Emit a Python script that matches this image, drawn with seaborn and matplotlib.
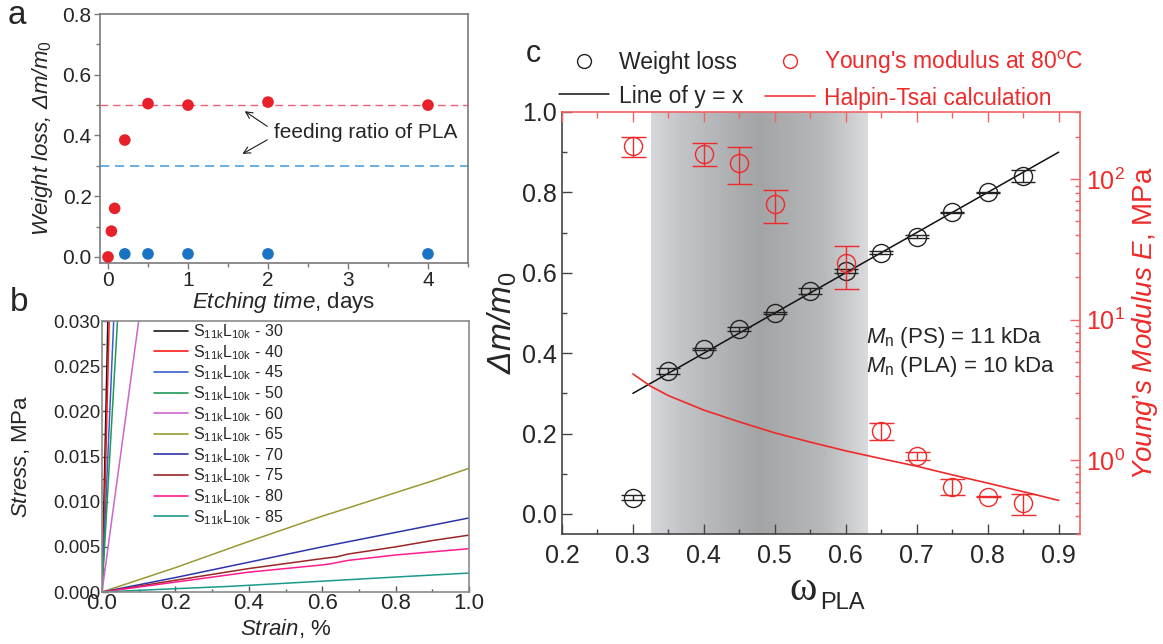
import numpy as np
import pandas as pd
import matplotlib
matplotlib.use("Agg")
import matplotlib.pyplot as plt
import seaborn as sns
from matplotlib.lines import Line2D
from matplotlib.colors import LinearSegmentedColormap
from matplotlib.ticker import MultipleLocator, LogLocator, NullFormatter

# ---------------- data: panel a ----------------
etch_time_pla = [0.0, 0.042, 0.083, 0.21, 0.5, 1.0, 2.0, 4.0]
weight_loss_pla = [0.0, 0.085, 0.16, 0.385, 0.505, 0.50, 0.51, 0.50]
etch_time_ps = [0.21, 0.5, 1.0, 2.0, 4.0]
weight_loss_ps = [0.01, 0.01, 0.01, 0.01, 0.01]
feed_ratio_red = 0.5
feed_ratio_blue = 0.3

# ---------------- data: panel b ----------------
sample_labels = ["30", "40", "45", "50", "60", "65", "70", "75", "80", "85"]
sample_colors = ["#1a1a1a", "#ff1a1a", "#3a5fcd", "#1f9a55", "#cc66cc",
                 "#999933", "#2e35a8", "#992626", "#ff1c8e", "#1a9a8c"]
strain_30 = [0.0, 0.018]
stress_30 = [0.0, 0.034]
strain_40 = [0.0, 0.005, 0.022]
stress_40 = [0.0, 0.006, 0.034]
strain_45 = [0.0, 0.034]
stress_45 = [0.0, 0.032]
strain_50 = [0.0, 0.045]
stress_50 = [0.0, 0.032]
strain_60 = [0.0, 0.105]
stress_60 = [0.0, 0.0315]
strain_65 = [0.0, 0.2, 0.4, 0.6, 0.67, 0.8, 0.9, 1.0]
stress_65 = [0.0, 0.0027, 0.0056, 0.0084, 0.0093, 0.0110, 0.0123, 0.0137]
strain_70 = [0.0, 0.2, 0.4, 0.6, 0.8, 1.0]
stress_70 = [0.0, 0.0016, 0.0033, 0.0050, 0.0066, 0.0082]
strain_75 = [0.0, 0.2, 0.4, 0.6, 0.64, 0.67, 0.8, 0.9, 1.0]
stress_75 = [0.0, 0.0013, 0.0026, 0.0037, 0.0039, 0.0042, 0.0050, 0.0057, 0.0063]
strain_80 = [0.0, 0.2, 0.4, 0.6, 0.62, 0.67, 0.8, 1.0]
stress_80 = [0.0, 0.0011, 0.0022, 0.0030, 0.0031, 0.0035, 0.0041, 0.0048]
strain_85 = [0.0, 0.2, 0.35, 0.6, 0.8, 1.0]
stress_85 = [0.0, 0.00037, 0.00063, 0.0012, 0.00166, 0.0021]

# ---------------- data: panel c ----------------
w_pla = [0.30, 0.35, 0.40, 0.45, 0.50, 0.55, 0.60, 0.65, 0.70, 0.75, 0.80, 0.85]
weight_loss_c = [0.04, 0.355, 0.41, 0.46, 0.50, 0.555, 0.605, 0.65, 0.69, 0.75, 0.80, 0.84]
weight_loss_err = [0.006, 0.008, 0.002, 0.004, 0.002, 0.008, 0.005, 0.004, 0.004, 0.002, 0.002, 0.015]
line_yx = [0.30, 0.90]
w_mod = [0.30, 0.40, 0.45, 0.50, 0.60, 0.65, 0.70, 0.75, 0.80, 0.85]
modulus = [172, 152, 131, 66.6, 25.2, 1.61, 1.07, 0.65, 0.553, 0.50]
modulus_hi = [200, 181, 169, 83.6, 33.6, 1.85, 1.15, 0.74, 0.56, 0.574]
modulus_lo = [144, 124, 92, 48.5, 16.5, 1.39, 1.00, 0.57, 0.546, 0.41]
w_ht = [0.30, 0.325, 0.35, 0.40, 0.45, 0.50, 0.55, 0.60, 0.65, 0.70, 0.75, 0.80, 0.85, 0.90]
halpin_tsai = [4.12, 3.37, 2.89, 2.28, 1.88, 1.57, 1.35, 1.17, 1.03, 0.91, 0.79, 0.69, 0.60, 0.52]
shade_range = [0.325, 0.63]

# ---------------- style ----------------
sns.set_theme(style="ticks")
plt.rcParams["font.family"] = ["Liberation Sans", "DejaVu Sans"]
plt.rcParams.update({
    "mathtext.fontset": "custom",
    "mathtext.rm": "Liberation Sans",
    "mathtext.it": "Liberation Sans:italic",
    "mathtext.bf": "Liberation Sans:bold",
    "axes.linewidth": 1.2,
})

RED = "#ee2a2a"
RED_SPINE = "#f26464"

fig = plt.figure(figsize=(11.63, 6.44), dpi=100)
axa = fig.add_axes([0.086, 0.5916, 0.3164, 0.3866])
axb = fig.add_axes([0.0877, 0.0807, 0.3156, 0.4208])
axc = fig.add_axes([0.4832, 0.1708, 0.4454, 0.6553])

# ================= panel a =================
axa.axhline(feed_ratio_red, ls=(0, (5.5, 3.5)), color="#e8607a", lw=1.0, zorder=1)
axa.axhline(feed_ratio_blue, ls=(0, (5.5, 3.5)), color="#4aa3e6", lw=1.2, zorder=1)
sns.scatterplot(x=etch_time_pla, y=weight_loss_pla, ax=axa, color="#e8202a",
                s=70, edgecolor="none", zorder=3)
sns.scatterplot(x=etch_time_ps, y=weight_loss_ps, ax=axa, color="#1a72c2",
                s=70, edgecolor="none", zorder=3)
axa.set_xlim(-0.1, 4.5)
axa.set_ylim(-0.02, 0.8)
axa.xaxis.set_major_locator(MultipleLocator(1))
axa.xaxis.set_minor_locator(MultipleLocator(0.5))
axa.yaxis.set_major_locator(MultipleLocator(0.2))
axa.yaxis.set_minor_locator(MultipleLocator(0.1))
axa.yaxis.set_major_formatter(matplotlib.ticker.FormatStrFormatter("%.1f"))
for s in axa.spines.values():
    s.set_color("#7a7a7a")
axa.tick_params(which="both", direction="out", color="#7a7a7a", labelsize=15, pad=2)
axa.tick_params(which="major", length=4, width=1)
axa.tick_params(which="minor", length=3, width=1)
axa.set_xlabel(r"$Etching\ time$, days", fontsize=16, labelpad=0)
axa.set_ylabel("Weight loss, Δm/m$_0$", fontsize=16, style="italic")
axa.yaxis.set_label_coords(-0.122, 0.5)
axa.text(2.08, 0.41, "feeding ratio of PLA", fontsize=15, va="center", ha="left")
axa.annotate("", xy=(1.68, 0.485), xytext=(2.02, 0.425),
             arrowprops=dict(arrowstyle="->", lw=0.8, color="k"))
axa.annotate("", xy=(1.65, 0.335), xytext=(2.02, 0.39),
             arrowprops=dict(arrowstyle="->", lw=0.8, color="k"))

# ================= panel b =================
strains = [strain_30, strain_40, strain_45, strain_50, strain_60,
           strain_65, strain_70, strain_75, strain_80, strain_85]
stresses = [stress_30, stress_40, stress_45, stress_50, stress_60,
            stress_65, stress_70, stress_75, stress_80, stress_85]
frames = []
for lab, sx, sy in zip(sample_labels, strains, stresses):
    frames.append(pd.DataFrame({"strain": sx, "stress": sy, "sample": lab}))
df_b = pd.concat(frames, ignore_index=True)
sns.lineplot(data=df_b, x="strain", y="stress", hue="sample", hue_order=sample_labels,
             palette=sample_colors, sort=False, estimator=None, lw=1.1, ax=axb, legend=False)
axb.set_xlim(0, 1.0)
axb.set_ylim(0, 0.030)
axb.xaxis.set_major_locator(MultipleLocator(0.2))
axb.xaxis.set_minor_locator(MultipleLocator(0.1))
axb.yaxis.set_major_locator(MultipleLocator(0.005))
axb.yaxis.set_minor_locator(MultipleLocator(0.0025))
axb.yaxis.set_major_formatter(matplotlib.ticker.FormatStrFormatter("%.3f"))
axb.xaxis.set_major_formatter(matplotlib.ticker.FormatStrFormatter("%.1f"))
for s in axb.spines.values():
    s.set_color("#8a8a8a")
axb.tick_params(which="both", direction="in", color="#555555")
axb.tick_params(which="major", length=4, width=1)
axb.tick_params(which="minor", length=2.5, width=1)
axb.tick_params(axis="y", labelsize=13.5, pad=1)
axb.tick_params(axis="x", labelsize=16, pad=1)
axb.set_xlabel(r"$Strain$, %", fontsize=16, labelpad=2)
axb.set_ylabel(r"$Stress$, MPa", fontsize=16)
axb.yaxis.set_label_coords(-0.19, 0.5)
handles_b = [Line2D([], [], color=c, lw=1.2) for c in sample_colors]
labels_b = [r"S$_{\rm 11k}$L$_{\rm 10k}$ - " + l for l in sample_labels]
axb.legend(handles_b, labels_b, loc="upper left", bbox_to_anchor=(0.142, 0.995),
           frameon=False, fontsize=11.5, handlelength=2.1, handletextpad=0.35,
           labelspacing=0.12, borderpad=0, borderaxespad=0)

# ================= panel c =================
cmap = LinearSegmentedColormap.from_list(
    "shade", [(0.0, "#d6d8db"), (0.15, "#c2c3c6"), (0.5, "#a3a4a6"),
              (0.8, "#b8b9bb"), (1.0, "#dadbdd")])
grad = np.linspace(0, 1, 256).reshape(1, -1)
axc.imshow(grad, extent=[shade_range[0], shade_range[1], -0.05, 1.0], aspect="auto",
           cmap=cmap, zorder=0, interpolation="bilinear")
sns.lineplot(x=line_yx, y=line_yx, ax=axc, color="#111111", lw=1.1, zorder=2)
axc.errorbar(w_pla, weight_loss_c, yerr=weight_loss_err, fmt="o", mfc="none", mec="#222222",
             ms=13, mew=1.0, ecolor="#222222", elinewidth=1.0, capsize=8.5, capthick=1.2,
             zorder=3)
axc.set_xlim(0.2, 0.93)
axc.set_ylim(-0.05, 1.0)
axc.xaxis.set_major_locator(MultipleLocator(0.1))
axc.xaxis.set_minor_locator(MultipleLocator(0.05))
axc.yaxis.set_major_locator(MultipleLocator(0.2))
axc.yaxis.set_minor_locator(MultipleLocator(0.1))
axc.xaxis.set_major_formatter(matplotlib.ticker.FormatStrFormatter("%.1f"))
axc.yaxis.set_major_formatter(matplotlib.ticker.FormatStrFormatter("%.1f"))
axc.tick_params(which="both", direction="in", color="#444444", top=False, right=False)
axc.tick_params(which="major", length=7, width=1, labelsize=18)
axc.tick_params(which="minor", length=3.5, width=1)
axc.tick_params(axis="x", pad=7)
axc.tick_params(axis="y", pad=4)
axc.spines["top"].set_visible(False)
axc.spines["right"].set_visible(False)
for k in ("left", "bottom"):
    axc.spines[k].set_color("#444444")
axc.set_ylabel("Δm/m$_0$", fontsize=24, style="italic", labelpad=2)

ax2 = axc.twinx()
ax2.set_yscale("log")
lo = np.array(modulus) - np.array(modulus_lo)
hi = np.array(modulus_hi) - np.array(modulus)
ax2.errorbar(w_mod, modulus, yerr=[lo, hi], fmt="o", mfc="none", mec=RED, ms=13, mew=1.0,
             ecolor=RED, elinewidth=1.0, capsize=9, capthick=1.2, zorder=3)
sns.lineplot(x=w_ht, y=halpin_tsai, ax=ax2, color=RED, lw=1.2, zorder=2)
ax2.set_ylim(0.3, 300)
ax2.yaxis.set_major_locator(LogLocator(base=10, numticks=10))
ax2.yaxis.set_minor_locator(LogLocator(base=10, subs=np.arange(2, 10), numticks=10))
ax2.yaxis.set_minor_formatter(NullFormatter())
ax2.spines["left"].set_visible(False)
ax2.spines["bottom"].set_visible(False)
ax2.spines["right"].set_color(RED_SPINE)
ax2.spines["top"].set_color(RED_SPINE)
ax2.tick_params(axis="y", which="both", direction="in", color=RED_SPINE, labelcolor=RED,
                labelsize=18, pad=4)
ax2.tick_params(axis="y", which="major", length=7, width=1)
ax2.tick_params(axis="y", which="minor", length=3.5, width=1)
ax2.xaxis.set_visible(True)
ax2.tick_params(axis="x", which="both", direction="in", bottom=False, top=True,
                labelbottom=False, labeltop=False, color=RED_SPINE)
ax2.tick_params(axis="x", which="major", length=7, width=1)
ax2.tick_params(axis="x", which="minor", length=4, width=1)
ax2.set_ylabel(r"$Young’s\ Modulus\ E$, MPa", color=RED, fontsize=20, labelpad=4)

axc.text(0.628, 0.44, r"$M_{\rm n}$ (PS) = 11 kDa", fontsize=16, va="center", ha="left", zorder=5)
axc.text(0.628, 0.366, r"$M_{\rm n}$ (PLA) = 10 kDa", fontsize=16, va="center", ha="left", zorder=5)

# x label of panel c: omega (serif) with sans subscript
fig.text(803 / 1163, 1 - 600 / 644, "ω", fontsize=30, family="Liberation Serif",
         ha="center", va="baseline")
fig.text(820 / 1163, 1 - 609 / 644, "PLA", fontsize=17, ha="left", va="baseline")

# legend of panel c
h1 = Line2D([], [], ls="none", marker="o", mfc="none", mec="#222222", ms=10, mew=1.0)
h2 = Line2D([], [], color="#111111", lw=1.1)
h3 = Line2D([], [], ls="none", marker="o", mfc="none", mec=RED, ms=10, mew=1.0)
h4 = Line2D([], [], color=RED, lw=1.1)
leg = fig.legend([h1, h2, h3, h4],
                 ["Weight loss", "Line of y = x",
                  r"Young's modulus at 80$^{\rm o}$C", "Halpin-Tsai calculation"],
                 ncol=2, loc="upper left", bbox_to_anchor=(559 / 1163, 1 - 49 / 644),
                 frameon=False, fontsize=16.5, handlelength=2.2, handletextpad=0.4,
                 columnspacing=0.95, borderpad=0, borderaxespad=0, labelspacing=0.45)
for t in leg.get_texts()[2:]:
    t.set_color(RED)

# panel letters
fig.text(8 / 1163, 1 - 24 / 644, "a", fontsize=24, ha="left", va="baseline")
fig.text(10 / 1163, 1 - 311 / 644, "b", fontsize=24, ha="left", va="baseline")
fig.text(526 / 1163, 1 - 62 / 644, "c", fontsize=22, ha="left", va="baseline")

fig.savefig("out.png", dpi=100)
